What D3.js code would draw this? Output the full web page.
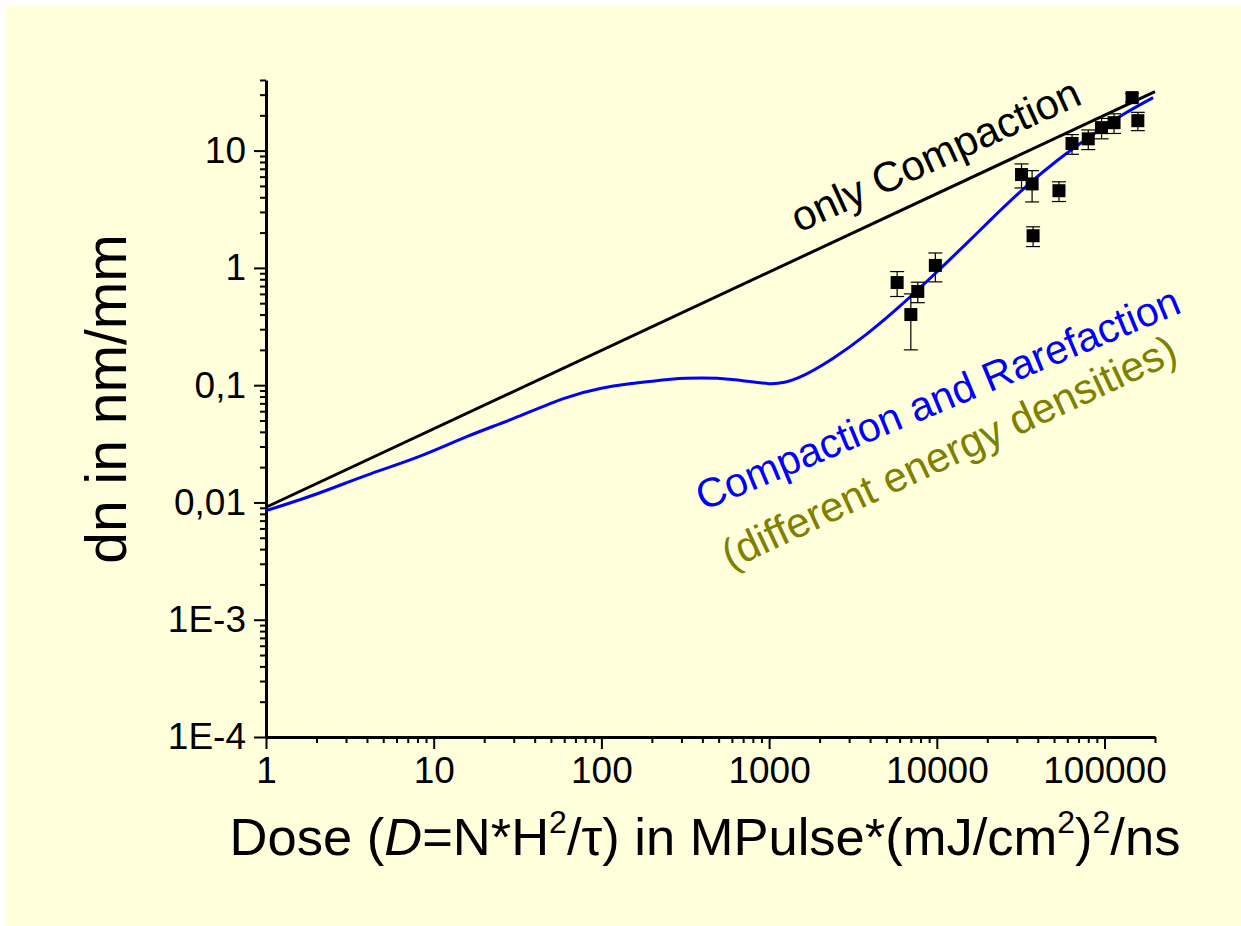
<!DOCTYPE html>
<html lang="en">
<head>
  <meta charset="utf-8">
  <title>dn vs dose</title>
  <script src="https://d3js.org/d3.v7.min.js"></script>
  <style>
    body { margin: 0; background: #fff; }
    text { font-family: Arial, "Liberation Sans", sans-serif; }
    .axis path, .axis line { stroke: #000; }
  </style>
</head>
<body>
  <script>
    // measured points with error bars
    var doseData = [5800, 7000, 7700, 9800, 32000, 37000, 37500, 53500, 64000, 80000, 96000, 114000, 146000, 158000];
    var dnData   = [0.75, 0.40, 0.63, 1.05, 6.25, 5.2, 1.88, 4.55, 11.5, 12.6, 15.7, 17.3, 28.3, 18.0];
    var dnErr    = [0.18, 0.20, 0.125, 0.29, 1.45, 1.55, 0.36, 0.87, 2.2, 2.4, 3.1, 3.3, 2.4, 3.2];

    // "only Compaction" model (straight in log-log)
    var doseCompaction = [1, 200000];
    var dnCompaction   = [0.0091, 31.8];

    // "Compaction and Rarefaction" model
    var doseRare = [1, 2, 4, 8, 16, 30, 60, 100, 140, 200, 320, 600, 1000, 1500, 2400, 3800, 6000, 9500, 15000, 21000, 33000, 52000, 82000, 129000, 195000];
    var dnRare   = [0.0085, 0.0118, 0.0171, 0.0243, 0.0367, 0.0521, 0.0772, 0.094, 0.1017, 0.108, 0.1143, 0.112, 0.103, 0.116, 0.169, 0.271, 0.469, 0.861, 1.61, 2.58, 4.75, 8.2, 13.2, 20.3, 28.3];

    var xTicks = [1, 10, 100, 1000, 10000, 100000];
    var yTicks = [1e-4, 1e-3, 0.01, 0.1, 1, 10];
    var yTickLabels = ["1E-4", "1E-3", "0,01", "0,1", "1", "10"];

    var w = 1241, h = 926;
    var margin = {top: 80, right: 86, bottom: 189, left: 266};
    var innerW = w - margin.left - margin.right,
      innerH = h - margin.top - margin.bottom;

    var x = d3.scaleLog().domain([1, 200000]).range([0, innerW]);
    var y = d3.scaleLog().domain([1e-4, 40]).range([innerH, 0]);

    var svg = d3.select('body').append('svg')
      .attr('width', w)
      .attr('height', h);

    svg.append('rect')
      .attr('x', 6).attr('y', 5)
      .attr('width', w - 6).attr('height', h - 5)
      .attr('fill', '#ffffdc');

    var g = svg.append('g')
      .attr('transform', 'translate(' + [margin.left, margin.top] + ')');

    // minor ticks
    var xMinor = [];
    for (var e = 0; e <= 5; e++) {
      for (var k = 2; k <= 9; k++) {
        var v = k * Math.pow(10, e);
        if (v <= 200000) xMinor.push(v);
      }
    }
    var yMinor = [];
    for (var e = -4; e <= 1; e++) {
      for (var k = 2; k <= 9; k++) {
        var v = k * Math.pow(10, e);
        if (v <= 40) yMinor.push(v);
      }
    }

    function styleLabels(s) {
      s.select('.domain').attr('stroke-width', 3);
      s.selectAll('line').attr('stroke-width', 2);
      s.selectAll('text').attr('font-size', 37).attr('fill', '#000')
        .attr('font-family', 'Arial, "Liberation Sans", sans-serif');
    }

    g.append('g')
      .attr('class', 'axis')
      .attr('transform', 'translate(0,' + innerH + ')')
      .call(d3.axisBottom(x).tickValues(xMinor).tickSize(6).tickSizeOuter(0).tickFormat(''))
      .call(function(s) { s.selectAll('line').attr('stroke-width', 2); s.select('.domain').remove(); });

    g.append('g')
      .attr('class', 'axis')
      .attr('transform', 'translate(0,' + innerH + ')')
      .call(d3.axisBottom(x).tickValues(xTicks).tickSize(12).tickSizeOuter(0).tickPadding(8)
        .tickFormat(d3.format('d')))
      .call(styleLabels);

    g.append('g')
      .attr('class', 'axis')
      .call(d3.axisLeft(y).tickValues(yMinor).tickSize(6).tickSizeOuter(0).tickFormat(''))
      .call(function(s) { s.selectAll('line').attr('stroke-width', 2); s.select('.domain').remove(); });

    g.append('g')
      .attr('class', 'axis')
      .call(d3.axisLeft(y).tickValues(yTicks).tickSize(12).tickSizeOuter(0).tickPadding(8)
        .tickFormat(function(d, i) { return yTickLabels[i]; }))
      .call(styleLabels);

    // model curves
    var line = d3.line()
      .x(function(d) { return x(d[0]); })
      .y(function(d) { return y(d[1]); });

    g.append('path')
      .datum(d3.zip(doseCompaction, dnCompaction))
      .attr('fill', 'none')
      .attr('stroke', '#000')
      .attr('stroke-width', 3)
      .attr('d', line);

    g.append('path')
      .datum(d3.zip(doseRare, dnRare))
      .attr('fill', 'none')
      .attr('stroke', '#0000ff')
      .attr('stroke-width', 3)
      .attr('d', line.curve(d3.curveNatural));

    // error bars + squares
    var pts = doseData.map(function(d, i) { return {x: d, y: dnData[i], e: dnErr[i]}; });
    var pg = g.selectAll('.pt').data(pts).enter().append('g').attr('class', 'pt');
    pg.append('line')
      .attr('x1', function(d) { return x(d.x); })
      .attr('x2', function(d) { return x(d.x); })
      .attr('y1', function(d) { return y(d.y + d.e); })
      .attr('y2', function(d) { return y(d.y - d.e); })
      .attr('stroke', '#000').attr('stroke-width', 1.2);
    [1, -1].forEach(function(sgn) {
      pg.append('line')
        .attr('x1', function(d) { return x(d.x) - 7; })
        .attr('x2', function(d) { return x(d.x) + 7; })
        .attr('y1', function(d) { return y(d.y + sgn * d.e); })
        .attr('y2', function(d) { return y(d.y + sgn * d.e); })
        .attr('stroke', '#000').attr('stroke-width', 1.2);
    });
    pg.append('rect')
      .attr('x', function(d) { return x(d.x) - 6.5; })
      .attr('y', function(d) { return y(d.y) - 6.5; })
      .attr('width', 13).attr('height', 13)
      .attr('fill', '#000');

    // annotations
    svg.append('text')
      .attr('transform', 'translate(799,233) rotate(-24.5)')
      .attr('font-size', 42).attr('fill', '#000')
      .text('only Compaction');
    svg.append('text')
      .attr('transform', 'translate(703,511) rotate(-22.5)')
      .attr('font-size', 41).attr('fill', '#0000ff')
      .text('Compaction and Rarefaction');
    svg.append('text')
      .attr('transform', 'translate(730,570) rotate(-25)')
      .attr('font-size', 42).attr('fill', '#808000')
      .text('(different energy densities)');

    // axis titles
    var xt = svg.append('text')
      .attr('x', 705).attr('y', 855)
      .attr('text-anchor', 'middle')
      .attr('font-size', 52.5).attr('fill', '#000');
    xt.append('tspan').text('Dose (');
    xt.append('tspan').attr('font-style', 'italic').text('D');
    xt.append('tspan').text('=N*H');
    xt.append('tspan').attr('font-size', 32).attr('dy', -22).text('2');
    xt.append('tspan').attr('dy', 22).text('/\u03c4) in MPulse*(mJ/cm');
    xt.append('tspan').attr('font-size', 32).attr('dy', -22).text('2');
    xt.append('tspan').attr('dy', 22).text(')');
    xt.append('tspan').attr('font-size', 32).attr('dy', -22).text('2');
    xt.append('tspan').attr('dy', 22).text('/ns');

    svg.append('text')
      .attr('transform', 'translate(126,399) rotate(-90)')
      .attr('text-anchor', 'middle')
      .attr('font-size', 57).attr('fill', '#000')
      .text('dn in nm/mm');
  </script>
</body>
</html>
